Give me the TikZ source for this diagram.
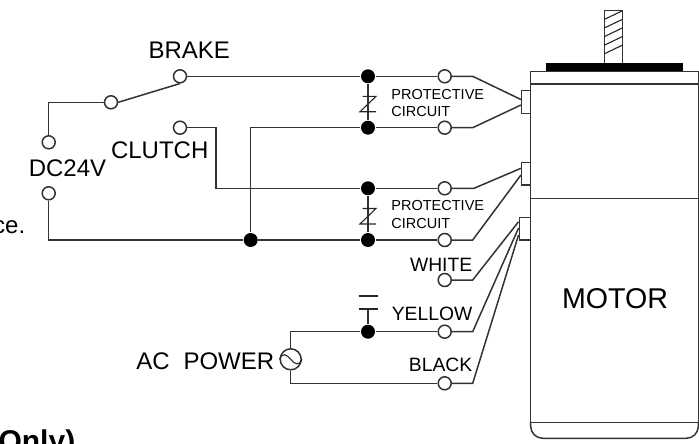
\documentclass[tikz,border=0pt]{standalone}
\usepackage{fontspec}
\setmainfont{Liberation Sans}
\usetikzlibrary{positioning, calc}

\begin{document}
\begin{tikzpicture}[
    x=1pt, y=-1pt,
    line width=1.5pt,
    wire/.style={draw=black!80},
    thinwire/.style={draw=black!85, line width=1.1pt},
    term/.style={circle, draw=black!80, fill=white, inner sep=0pt, minimum size=13pt},
    junc/.style={circle, fill=black, inner sep=0pt, minimum size=14pt},
    plug/.style={rectangle, draw=black!80, fill=white, inner sep=0pt, minimum width=9pt, minimum height=22.5pt},
    big/.style={font=\fontsize{24}{24}\selectfont, inner sep=0pt},
    color label/.style={font=\fontsize{19.3}{19.3}\selectfont, inner sep=0pt, anchor=east},
    small label/.style={font=\fontsize{14.5}{14.5}\selectfont, inner sep=0pt, anchor=west}
]
\useasboundingbox (0,0) rectangle (699,444);

% Motor body
\draw[wire] (530.7,71.3) rectangle (698.3,422.3);
\draw[wire] (530.7,84) -- (698.3,84);
\draw[wire] (530.7,198.3) -- (698.3,198.3);
\draw[wire] (530.7,422.3) -- (530.7,426.3) arc[start angle=180, end angle=90, radius=12pt, y radius=-12pt] -- (686.3,438.3) arc[start angle=90, end angle=0, radius=12pt, y radius=-12pt] -- (698.3,422.3);
\node[inner sep=0pt, font=\fontsize{28.6}{28.6}\selectfont] (motor) at (615,298.3) {MOTOR};

% Shaft
\fill[black] (546.3,63.3) rectangle (682.7,71.3);
\draw[wire] (604.6,63.3) -- (604.6,10.7) -- (622.5,10.7) -- (622.5,63.3);
\foreach \i in {0,...,4} {
    \draw[thinwire] (604.6,19.3+8.6*\i) -- (622.5,10.7+8.6*\i);
}

% Connectors on the motor
\node[plug] (plug1) at (526.2,102) {};
\node[plug] (plug2) at (526.2,173.5) {};
\node[plug, minimum width=11.4pt] (plug3) at (525,228.7) {};

% Terminals
\node[term] (brake) at (180,76.3) {};
\node[term] (relay) at (111,102.3) {};
\node[term] (clutch) at (180,127.7) {};
\node[term] (dcpos) at (48.7,142.3) {};
\node[term] (dcneg) at (48.7,193.3) {};
\node[term] (t1) at (444.7,76.3) {};
\node[term] (t2) at (444.7,127.7) {};
\node[term] (t3) at (444.7,188.3) {};
\node[term] (t4) at (444.7,240) {};
\node[term] (white) at (444.7,280) {};
\node[term] (yellow) at (444.7,331.7) {};
\node[term] (black) at (444.7,383.3) {};

% Junctions
\node[junc] (j1) at (368,76.3) {};
\node[junc] (j2) at (368,127.7) {};
\node[junc] (j3) at (368,188.3) {};
\node[junc] (j4) at (368,240) {};
\node[junc] (j5) at (368,331.7) {};
\node[junc] (j6) at (250.7,240) {};

% AC source
\node[circle, draw=black!80, fill=white, inner sep=0pt, minimum size=21pt] (ac) at (290.7,359.3) {};
\draw[thinwire] (ac.west) .. controls +(3,-7) and +(-4,-5) .. (ac.center) .. controls +(4,5) and +(-3,7) .. (ac.east);

% Labels
\node[big] (brakelbl) at (189.3,50.7) {BRAKE};
\node[big] (clutchlbl) at (159.7,150) {CLUTCH};
\node[big] (dclbl) at (67.5,168.3) {DC24V};
\node[big, anchor=east] (aclbl) at (275,361) {AC\hspace{0.3em} POWER};
\node[color label] (whitelbl) at (473,265) {WHITE};
\node[color label] (yellowlbl) at (473,314) {YELLOW};
\node[color label] (blacklbl) at (473,365) {BLACK};
\node[small label] (p1) at (390.7,94.3) {PROTECTIVE};
\node[small label] (c1) at (390.7,111.7) {CIRCUIT};
\node[small label] (p2) at (390.7,206) {PROTECTIVE};
\node[small label] (c2) at (390.7,223.3) {CIRCUIT};
\node[big, anchor=base east] (frag1) at (26,233.3) {ce.};
\node[anchor=base east, inner sep=0pt, font=\fontsize{30}{30}\selectfont\bfseries] (frag2) at (76,451.5) {Only)};

% Wires - left side
\draw[wire] (dcpos) |- (relay);
\draw[wire] (relay.east) -- (brake.south);
\draw[wire] (brake) -- (j1);
\draw[wire] (dcneg) |- (j6);
\draw[wire] (j6) -- (j4);
\draw[wire] (j6) |- (j2);
\draw[wire] (clutch) -| (216,188.3) -- (j3);

% Wires - zener pairs
\draw[wire] (j1) -- (j2);
\draw[wire] (j3) -- (j4);
\foreach \a/\b in {j1/j2, j3/j4} {
    \draw[thinwire] ($(\a)!0.39!(\b)+(-5.5,0)$) -- ++(13.5,0) -- ($(\a)!0.69!(\b)+(-8,0)$) -- ++(16,0);
}

% Wires - to terminals
\draw[wire] (j1) -- (t1);
\draw[wire] (j2) -- (t2);
\draw[wire] (j3) -- (t3);
\draw[wire] (j4) -- (t4);
\draw[wire] (j5) -- (yellow);

% Wires - to the connectors
\draw[wire] (t1) -- (472.7,76.3) -- ($(plug1.west)+(0,-2.5)$);
\draw[wire] (t2) -- (472.7,127.7) -- ($(plug1.west)+(0,3)$);
\draw[wire] (t3) -- (474,188.3) -- ($(plug2.west)+(0,-5.2)$);
\draw[wire] (t4) -- (472.7,240) -- ($(plug2.west)+(0,1.5)$);
\draw[wire] (white) -- (472.7,280) -- ($(plug3.west)+(0,-7)$);
\draw[wire] (yellow) -- (472.7,331.7) -- ($(plug3.west)+(0,-0.7)$);
\draw[wire] (black) -- (472.7,383.3) -- ($(plug3.west)+(0,6.3)$);

% AC power
\draw[wire] (ac.north) |- (j5);
\draw[wire] (ac.south) |- (black);

% Capacitor
\coordinate (plateA) at (368,296);
\coordinate (plateB) at (368,309);
\draw[wire] (j5) -- (plateB);
\draw[thinwire] ($(plateA)+(-9.5,0)$) -- ($(plateA)+(9.5,0)$);
\draw[thinwire] ($(plateB)+(-9.5,0)$) -- ($(plateB)+(9.5,0)$);

\end{tikzpicture}
\end{document}
